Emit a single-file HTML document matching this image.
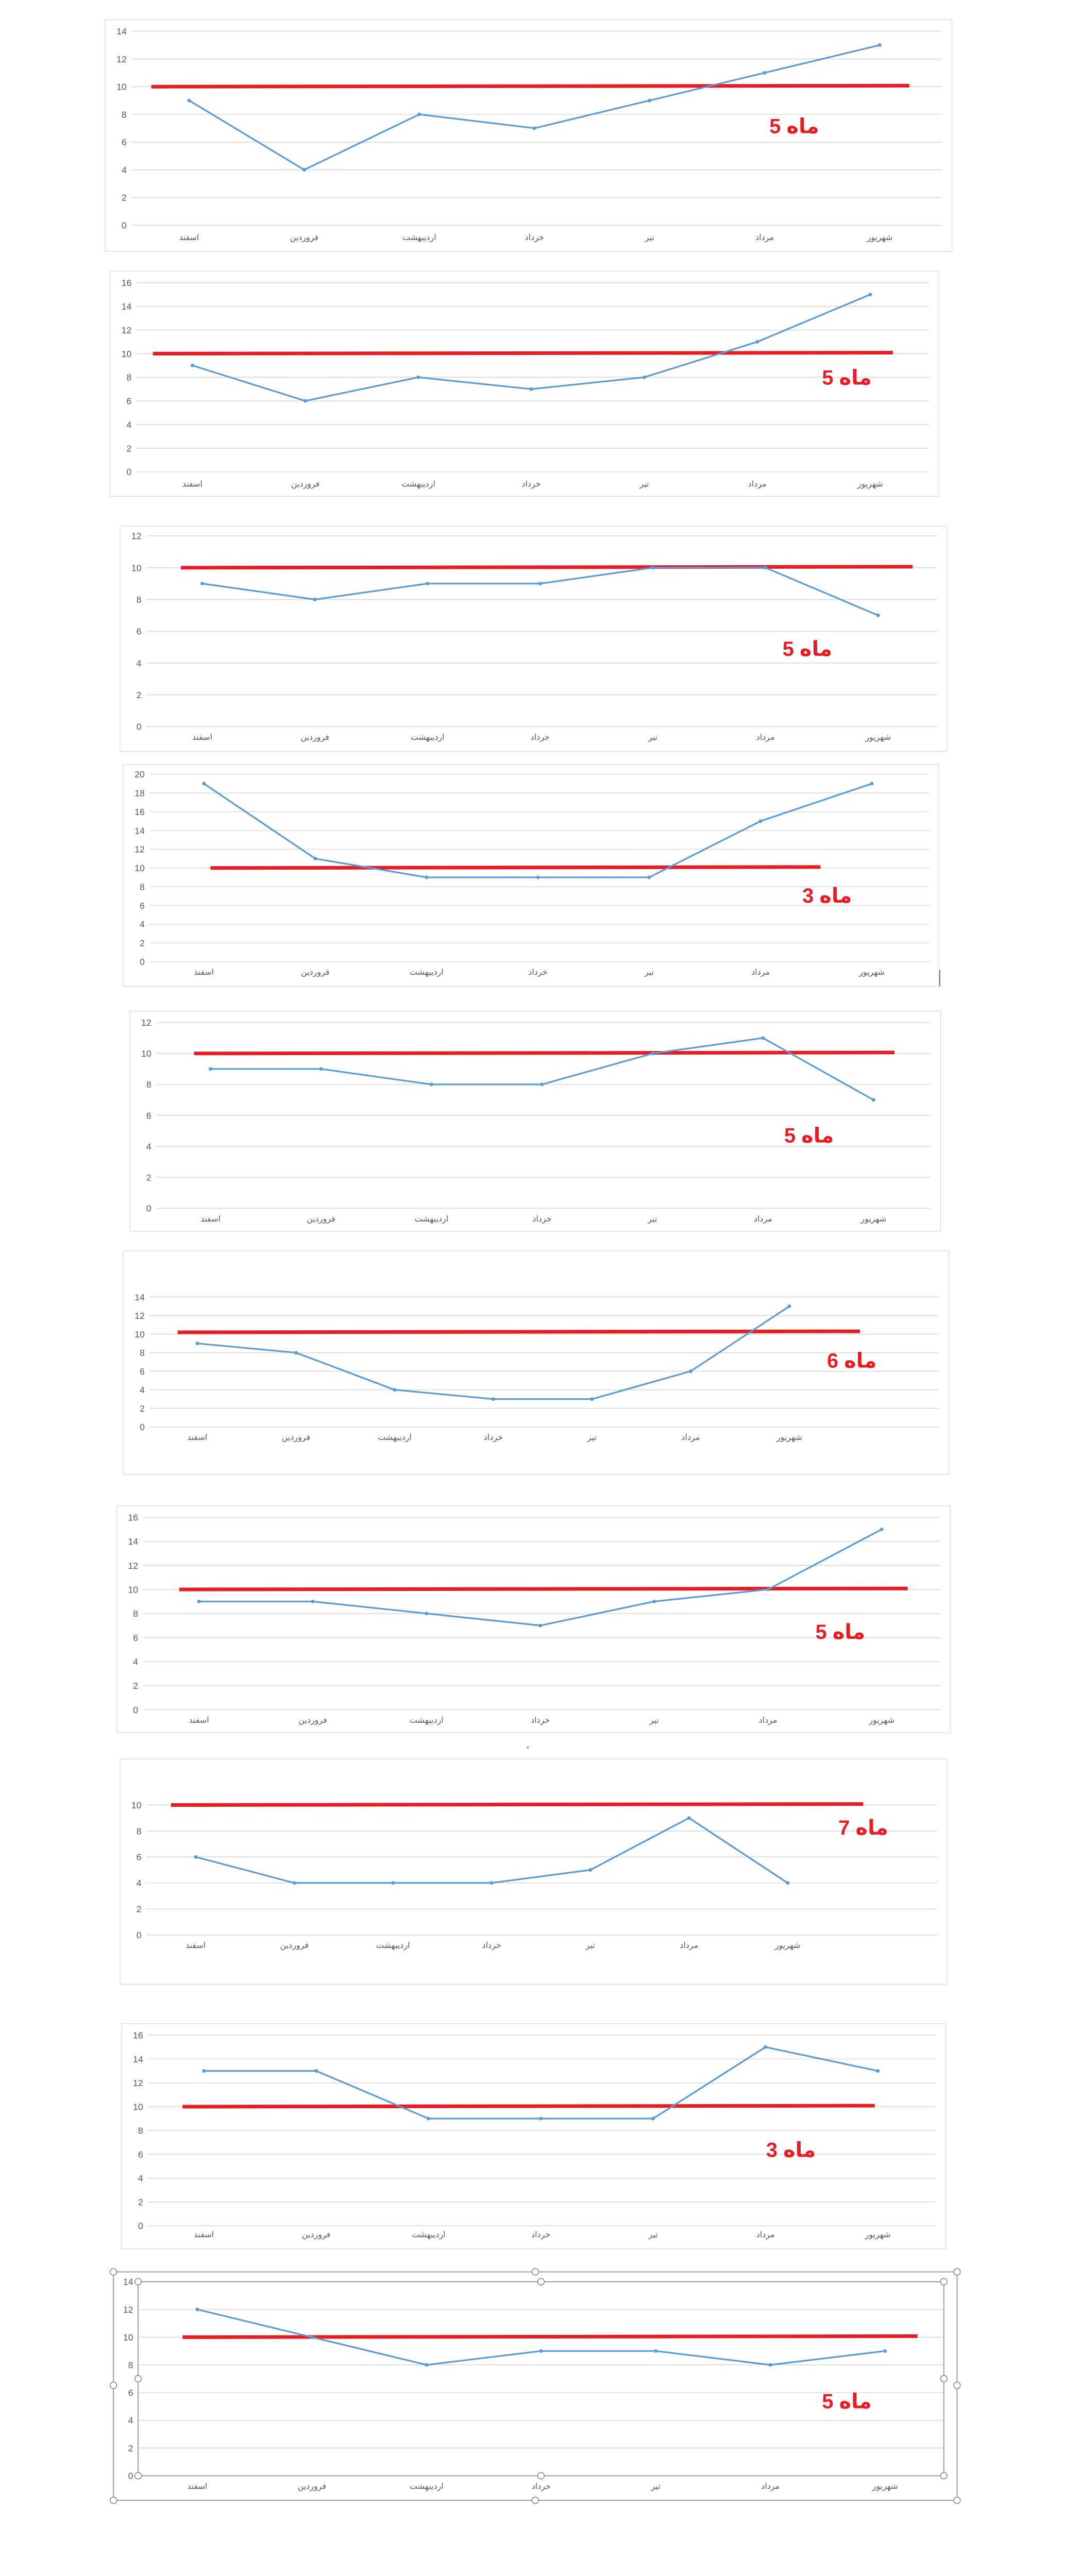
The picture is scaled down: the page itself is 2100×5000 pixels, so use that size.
<!DOCTYPE html>
<html><head><meta charset="utf-8"><style>
html,body{margin:0;padding:0;background:#fff;}
svg{display:block;}
text{font-family:"Liberation Sans","DejaVu Sans",sans-serif;}
</style></head><body>
<svg id="s" xmlns="http://www.w3.org/2000/svg" width="2100" height="5000" viewBox="0 0 658 1567" preserveAspectRatio="none">
<rect width="658" height="1567" fill="#fff"/>
<g id="g"></g>
<circle cx="321" cy="1063" r="0.6" fill="#888"/>
<line x1="571.5" y1="590" x2="571.5" y2="600" stroke="#555" stroke-width="0.5"/>
</svg>
<script>
var M=["اسفند","فروردین","اردیبهشت","خرداد","تیر","مرداد","شهریور"];
var C=[
{b:[64,12,579,153],max:14,yt:19,y0:137,x0:115,dx:70,v:[9,4,8,7,9,11,13],r:[92,553],lab:"5 ماه",lx:483,ly:81,xl:146},
{b:[67,165,571,302],max:16,yt:172,y0:287,x0:117,dx:68.7,v:[9,6,8,7,8,11,15],r:[93,543],lab:"5 ماه",lx:515,ly:234,xl:296},
{b:[73,320,576,457],max:12,yt:326,y0:442,x0:123,dx:68.5,v:[9,8,9,9,10,10,7],r:[110,555],lab:"5 ماه",lx:491,ly:399,xl:450},
{b:[75,465,571,600],max:20,yt:471,y0:585,x0:124,dx:67.7,v:[19,11,9,9,9,15,19],r:[128,499],lab:"3 ماه",lx:503,ly:549,xl:593},
{b:[79,615,572,749],max:12,yt:622,y0:735,x0:128,dx:67.2,v:[9,9,8,8,10,11,7],r:[118,544],lab:"5 ماه",lx:492,ly:695,xl:743},
{b:[75,761,577,897],max:14,yt:789,y0:868,x0:120,dx:60,v:[9,8,4,3,3,6,13],r:[108,523],rv:10.2,lab:"6 ماه",lx:518,ly:832,xl:876},
{b:[71,916,578,1054],max:16,yt:923,y0:1040,x0:121,dx:69.2,v:[9,9,8,7,9,10,15],r:[109,552],lab:"5 ماه",lx:511,ly:997,xl:1048},
{b:[73,1070,576,1207],max:10,yt:1098,y0:1177,x0:119,dx:60,v:[6,4,4,4,5,9,4],r:[104,525],lab:"7 ماه",lx:525,ly:1116,xl:1185},
{b:[74,1231,575,1368],max:16,yt:1238,y0:1354,x0:124,dx:68.3,v:[13,13,9,9,9,15,13],r:[111,532],lab:"3 ماه",lx:481,ly:1312,xl:1361},
{b:[69,1382,582,1521],max:14,yt:1388,y0:1506,x0:120,dx:69.7,v:[12,10,8,9,9,8,9],r:[111,558],lab:"5 ماه",lx:515,ly:1465,xl:1514,sel:1}
];
var h='';
C.forEach(function(c){
 var b=c.b;
 h+='<rect x="'+b[0]+'" y="'+b[1]+'" width="'+(b[2]-b[0])+'" height="'+(b[3]-b[1])+'" fill="#fff" stroke="'+(c.sel?'#999':'#d9d9d9')+'" stroke-width="'+(c.sel?0.6:0.4)+'"/>';
 var gx1=b[0]+16,gx2=b[2]-6;
 if(c.sel){gx1=84;gx2=574;}
 var sc=(c.y0-c.yt)/c.max;
 for(var t=0;t<=c.max;t+=2){
  var y=c.y0-t*sc;
  h+='<line x1="'+gx1+'" y1="'+y+'" x2="'+gx2+'" y2="'+y+'" stroke="#d9d9d9" stroke-width="0.5"/>';
  h+='<text x="'+(gx1-3)+'" y="'+(y+2)+'" font-size="5.5" fill="#595959" text-anchor="end">'+t+'</text>';
 }
 var rv=c.rv||10,ry=c.y0-rv*sc;
 h+='<line x1="'+c.r[0]+'" y1="'+ry+'" x2="'+c.r[1]+'" y2="'+(ry-0.6)+'" stroke="#e81c24" stroke-width="2.2"/>';
 var p=[];
 c.v.forEach(function(v,i){p.push((c.x0+i*c.dx)+','+(c.y0-v*sc));});
 h+='<polyline points="'+p.join(' ')+'" fill="none" stroke="#5b9bd5" stroke-width="1"/>';
 p.forEach(function(q){var a=q.split(',');h+='<circle cx="'+a[0]+'" cy="'+a[1]+'" r="1.1" fill="#5b9bd5"/>';});
 M.forEach(function(m,i){h+='<text x="'+(c.x0+i*c.dx)+'" y="'+c.xl+'" font-size="5" fill="#595959" text-anchor="middle">'+m+'</text>';});
 h+='<text x="'+c.lx+'" y="'+c.ly+'" font-size="12.5" font-weight="bold" fill="#e81c24" text-anchor="middle">'+c.lab+'</text>';
 if(c.sel){
  h+='<rect x="84" y="1388" width="490" height="118" fill="none" stroke="#999" stroke-width="0.6"/>';
  var pts=[[69,1382],[325.5,1382],[582,1382],[69,1451],[582,1451],[69,1521],[325.5,1521],[582,1521],[84,1388],[329,1388],[574,1388],[84,1447],[574,1447],[84,1506],[329,1506],[574,1506]];
  pts.forEach(function(q){h+='<circle cx="'+q[0]+'" cy="'+q[1]+'" r="2" fill="#fff" stroke="#888" stroke-width="0.5"/>';});
 }
});
document.getElementById('g').innerHTML=h;
</script>
</body></html>
